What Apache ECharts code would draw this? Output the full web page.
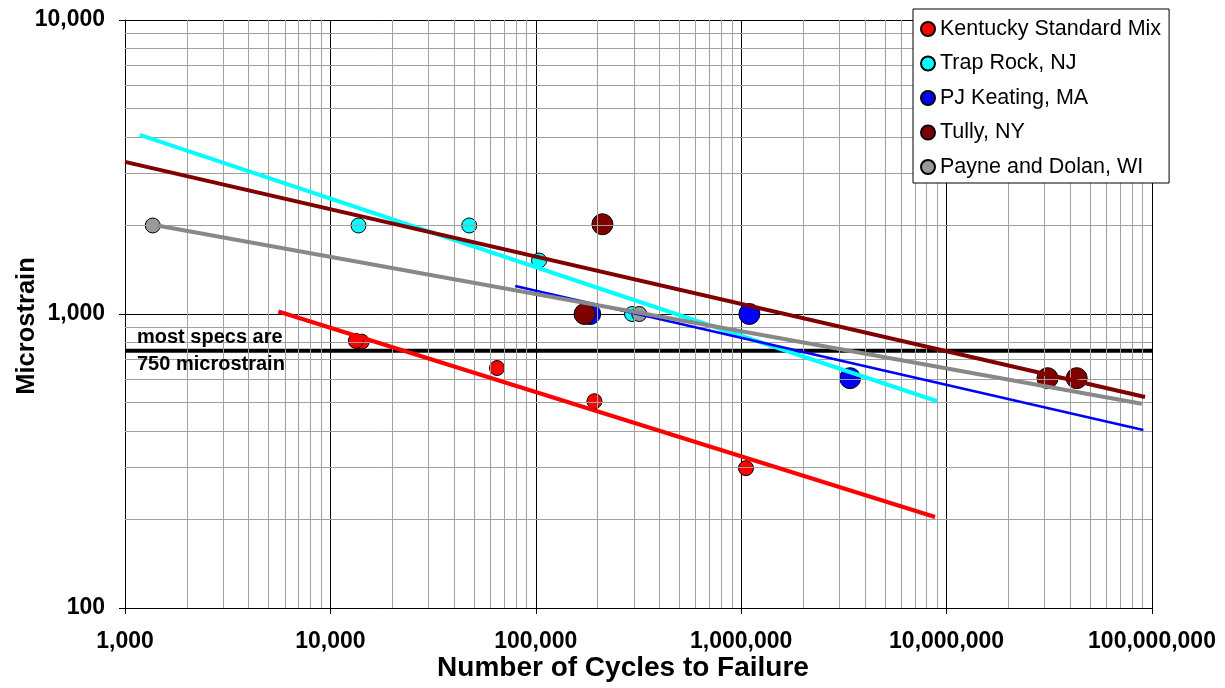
<!DOCTYPE html>
<html>
<head>
<meta charset="utf-8">
<script src="https://cdn.jsdelivr.net/npm/echarts@6/dist/echarts.min.js"></script>
<style>
  html, body { margin: 0; padding: 0; background: #fff; }
  #chart { width: 1225px; height: 688px; }
</style>
</head>
<body>
<div id="chart"></div>
<script>
// Fatigue test results: strain level vs. cycles to failure, per mix
const seriesNames = ['Kentucky Standard Mix', 'Trap Rock, NJ', 'PJ Keating, MA', 'Tully, NY', 'Payne and Dolan, WI'];
const seriesColors = ['#ff0000', '#00ffff', '#0000ff', '#800000', '#999999'];
const lineColors = ['#ff0000', '#00ffff', '#0000ff', '#800000', '#888888'];

// [cycles, microstrain]
const kentuckyPoints = [[14200, 805], [13300, 810], [64700, 655], [193000, 505], [1055000, 299]];
const trapRockPoints = [[13700, 2000], [47400, 2000], [103700, 1520], [294000, 1000]];
const keatingPoints = [[184000, 1000], [1096000, 1000], [3390000, 605]];
const tullyPoints = [[211000, 2020], [172800, 1000], [31000000, 605], [43000000, 605]];
const payneDolanPoints = [[1365, 2000], [319000, 1000]];

// Power-law trend lines (straight on log-log axes), start and end points
const kentuckyTrend = [[5580, 1020], [8790000, 204]];
const trapRockTrend = [[1180, 4066], [9000000, 505]];
const keatingTrend = [[79400, 1245], [90800000, 403]];
const tullyTrend = [[1000, 3292], [92500000, 522]];
const payneDolanTrend = [[1435, 2000], [89200000, 495]];

// Common specification limit
const specStrain = 750;
const specLabels = ['most specs are', '750 microstrain'];

const xMin = 1000, xMax = 100000000;
const yMin = 100, yMax = 10000;

// Minor grid values (2..9 within each decade)
const minorX = [];
for (let d = xMin; d < xMax; d *= 10) for (let m = 2; m <= 9; m++) minorX.push(m * d);
const minorY = [];
for (let d = yMin; d < yMax; d *= 10) for (let m = 2; m <= 9; m++) minorY.push(m * d);

const FONT = '"Liberation Sans", Arial, sans-serif';
const fmt = v => Number(v).toLocaleString('en-US');

const pointSets = [kentuckyPoints, trapRockPoints, keatingPoints, tullyPoints, payneDolanPoints];
const trendSets = [kentuckyTrend, trapRockTrend, keatingTrend, tullyTrend, payneDolanTrend];
const markerSizes = [15, 15, 21, 21, 15];
const trendWidths = [4, 4, 2.5, 4, 4];
const GRID_GRAY = '#a0a0a0';

const series = [];

// Minor grid lines, placed through the log axes
series.push({
  type: 'line', silent: true, z: 1,
  data: [[xMin, yMin]],
  symbol: 'none',
  lineStyle: { width: 0 },
  markLine: {
    silent: true,
    animation: false,
    symbol: ['none', 'none'],
    label: { show: false },
    emphasis: { disabled: true },
    lineStyle: { color: GRID_GRAY, width: 1, type: 'solid' },
    data: minorX.map(v => ({ xAxis: v })).concat(minorY.map(v => ({ yAxis: v })))
  }
});

// Spec limit line
series.push({
  type: 'line', silent: true, z: 3,
  data: [[xMin, specStrain], [xMax, specStrain]],
  symbol: 'none',
  lineStyle: { color: '#000', width: 4 }
});

// Measured points
seriesNames.forEach((name, i) => {
  series.push({
    name, type: 'scatter', z: 4,
    data: pointSets[i],
    symbol: 'circle',
    symbolSize: markerSizes[i],
    itemStyle: { color: seriesColors[i], borderColor: '#000', borderWidth: 1, opacity: 1 }
  });
});

// Trend lines
seriesNames.forEach((name, i) => {
  series.push({
    name: name + ' trend', type: 'line', z: 5, silent: true,
    data: trendSets[i],
    symbol: 'none',
    lineStyle: { color: lineColors[i], width: trendWidths[i] }
  });
});

const axisCommon = {
  type: 'log', logBase: 10,
  axisLine: { show: true, lineStyle: { color: '#000', width: 1 } },
  axisTick: { show: true, inside: false, length: 6, lineStyle: { color: '#000' } },
  minorTick: { show: false },
  minorSplitLine: { show: false },
  splitLine: { show: true, lineStyle: { color: '#000', width: 1 } },
  axisLabel: { fontSize: 23, fontWeight: 'bold', color: '#000', fontFamily: FONT, formatter: fmt }
};

const option = {
  animation: false,
  backgroundColor: '#fff',
  grid: { left: 125, right: 73, top: 20, bottom: 80, containLabel: false },
  xAxis: Object.assign({}, axisCommon, {
    min: xMin, max: xMax,
    axisLabel: Object.assign({}, axisCommon.axisLabel, { margin: 22 })
  }),
  yAxis: Object.assign({}, axisCommon, {
    min: yMin, max: yMax,
    axisLabel: Object.assign({}, axisCommon.axisLabel, { margin: 20 })
  }),
  legend: {
    data: seriesNames.map(n => ({ name: n, icon: 'circle' })),
    orient: 'vertical', left: 913, top: 9, z: 10,
    backgroundColor: '#fff', borderColor: '#000', borderWidth: 1, borderRadius: 0,
    padding: [9, 8, 5, 7],
    itemGap: 12.5, itemWidth: 14, itemHeight: 14,
    textStyle: { fontSize: 21.5, color: '#000', fontFamily: FONT },
    selectedMode: false
  },
  graphic: [
    { type: 'text', left: 137, top: 327, z: 10, style: { text: specLabels[0], font: 'bold 20px ' + FONT, fill: '#000' } },
    { type: 'text', left: 137, top: 354, z: 10, style: { text: specLabels[1], font: 'bold 20px ' + FONT, fill: '#000' } },
    { type: 'text', x: 623, y: 668, z: 10, style: { text: 'Number of Cycles to Failure', font: 'bold 28px ' + FONT, fill: '#000', align: 'center', verticalAlign: 'middle' } },
    { type: 'text', x: 27, y: 326, rotation: Math.PI / 2, z: 10, style: { text: 'Microstrain', font: 'bold 25.5px ' + FONT, fill: '#000', align: 'center', verticalAlign: 'middle' } }
  ],
  series
};

const chart = echarts.init(document.getElementById('chart'), null, { renderer: 'canvas' });
chart.setOption(option);
</script>
</body>
</html>
